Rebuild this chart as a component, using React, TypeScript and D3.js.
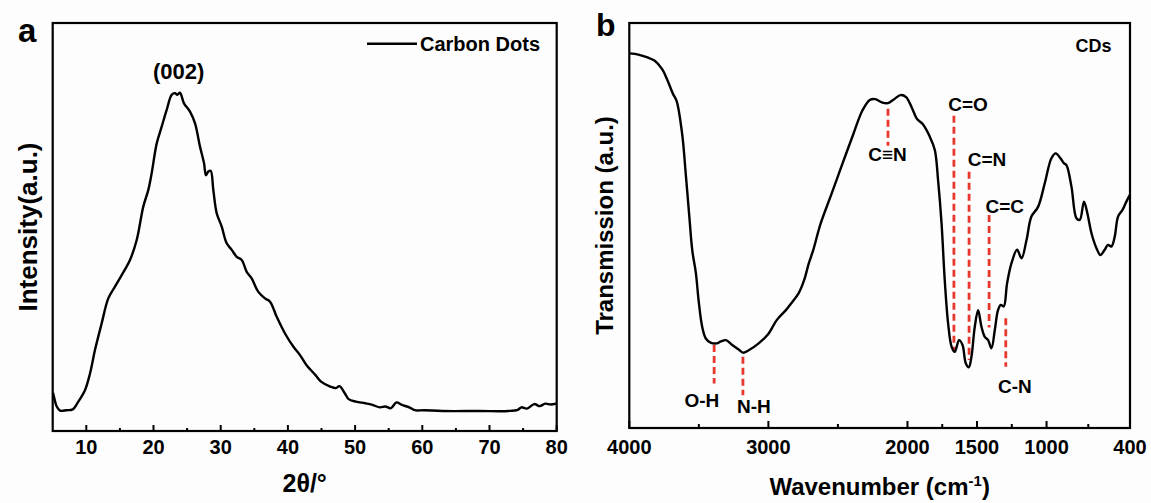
import React from "react";
import * as d3 from "d3";

// ---------- Panel a: XRD ----------
const xrdAngle = [5.05, 5.19, 5.6, 6.09, 7.08, 7.98, 8.81, 9.8, 10.55, 11.3, 12.29, 13.27, 14.27, 15.27, 16.5, 17.5, 18.48, 19.23, 19.73, 20.48, 21.22, 21.96, 22.71, 23.2, 23.54, 23.94, 24.54, 25.43, 26.18, 26.92, 27.52, 27.81, 28.16, 28.51, 28.9, 29.4, 30.15, 30.89, 31.64, 32.38, 33.13, 33.87, 34.61, 35.6, 36.59, 37.34, 38.33, 39.57, 40.8, 41.8, 42.75, 44.11, 44.93, 46.3, 47.12, 47.67, 48.49, 49.04, 50.13, 51.5, 52.59, 53.69, 54.51, 55.33, 56.15, 56.97, 58.06, 58.88, 60.25, 62.99, 68.46, 72.83, 74.2, 74.75, 75.57, 76.66, 77.48, 78.3, 79.12, 79.9];
const xrdIntensity = [9.4, 8.4, 6.0, 5.0, 5.1, 5.3, 7.2, 10.0, 14.1, 19.9, 26.4, 32.5, 35.4, 38.2, 41.9, 46.8, 55.0, 59.1, 63.2, 70.5, 74.6, 78.7, 82.4, 82.8, 82.4, 82.9, 80.3, 78.3, 75.4, 69.7, 65.6, 62.7, 63.6, 63.8, 59.1, 53.4, 50.1, 46.0, 44.4, 42.7, 41.9, 39.0, 37.4, 34.1, 32.5, 31.7, 28.0, 23.9, 20.7, 18.6, 16.2, 13.7, 12.1, 10.9, 10.5, 11.0, 9.2, 7.8, 7.2, 6.8, 6.4, 5.8, 6.0, 5.6, 7.0, 6.4, 5.8, 5.1, 5.1, 4.9, 4.9, 4.9, 5.2, 5.8, 5.5, 6.6, 6.1, 6.7, 6.5, 6.7];
const xrdTicks = [10, 20, 30, 40, 50, 60, 70, 80];
const xrdMinorTicks = [15, 25, 35, 45, 55, 65, 75];

// ---------- Panel b: FTIR ----------
const ftirWavenumber = [3995, 3935, 3869, 3817, 3764, 3725, 3686, 3660, 3620, 3594, 3568, 3547, 3521, 3502, 3476, 3450, 3416, 3371, 3345, 3306, 3267, 3214, 3180, 3136, 3070, 3005, 2939, 2874, 2835, 2782, 2743, 2709, 2677, 2625, 2546, 2468, 2389, 2324, 2271, 2232, 2185, 2140, 2096, 2049, 2010, 1970, 1931, 1892, 1839, 1803, 1780, 1755, 1732, 1708, 1683, 1660, 1629, 1604, 1581, 1559, 1540, 1516, 1492, 1468, 1444, 1420, 1396, 1372, 1349, 1329, 1308, 1284, 1252, 1212, 1180, 1144, 1109, 1061, 1013, 965, 934, 900, 876, 857, 821, 785, 761, 731, 709, 677, 641, 613, 582, 558, 534, 510, 486, 455, 426, 402];
const ftirTransmission = [92.5, 92.2, 91.5, 90.7, 88.6, 85.8, 82.5, 80.8, 72.6, 62.7, 52.0, 43.8, 38.2, 31.6, 25.0, 22.1, 21.1, 20.9, 21.3, 21.7, 20.7, 19.4, 18.6, 19.3, 20.9, 23.0, 26.7, 29.1, 30.8, 33.3, 36.5, 40.7, 44.0, 50.4, 57.8, 65.2, 72.6, 78.4, 81.0, 81.2, 80.4, 80.2, 81.2, 82.2, 81.7, 79.2, 76.3, 75.1, 71.9, 68.6, 61.2, 50.6, 36.5, 25.9, 20.1, 18.8, 21.7, 20.5, 16.0, 15.0, 17.6, 25.0, 29.1, 25.0, 22.5, 21.7, 19.7, 24.2, 29.1, 30.4, 30.0, 35.7, 40.7, 44.0, 41.9, 46.4, 52.2, 54.6, 60.4, 66.6, 67.8, 66.6, 65.4, 64.9, 59.6, 51.8, 51.4, 55.9, 53.4, 48.1, 44.4, 42.7, 44.0, 45.2, 44.8, 47.2, 52.2, 53.8, 55.9, 57.5];
const ftirTicks = [4000, 3000, 2000, 1500, 1000, 400];
const ftirMinorTicks = [3500, 2500, 1750, 1250, 700];

// Bond annotations
const bondNames = ["O-H", "N-H", "C\u2261N", "C=O", "C=N", "C=C", "C-N"];
const bondWavenumber = [3390, 3183, 2140, 1666, 1557, 1413, 1293];
const bondLineTop = [20.5, 17.6, 78.8, 77.1, 63.3, 52.6, 27.1];
const bondLineBottom = [11.0, 8.1, 69.7, 18.9, 16.8, 24.8, 15.1];
const bondLabelWavenumber = [3478, 3104, 2143, 1565, 1428, 1300, 1228];
const bondLabelLevel = [6.7, 5.3, 67.5, 80.0, 66.4, 54.8, 10.2];

const FONT = "'Liberation Sans', Arial, Helvetica, sans-serif";

export default function App() {
  const W = 1151, H = 503;

  // panel a scales
  const ax = d3.scaleLinear().domain([5, 80]).range([52.7, 556.7]);
  const ay = d3.scaleLinear().domain([0, 100]).range([431, 23]);
  const aLine = d3.line<number>()
    .x((_, i) => ax(xrdAngle[i]))
    .y((d) => ay(d))
    .curve(d3.curveCatmullRom.alpha(0.5));

  // panel b scales
  const bx = d3.scaleLinear().domain([4000, 400]).range([629.3, 1130]);
  const by = d3.scaleLinear().domain([0, 100]).range([428, 23]);
  const bLine = d3.line<number>()
    .x((_, i) => bx(ftirWavenumber[i]))
    .y((d) => by(d))
    .curve(d3.curveCatmullRom.alpha(0.5));

  const red = "#e8382e";

  return (
    <div style={{ position: "absolute", left: 0, top: 0 }}>
      <svg width={W} height={H} style={{ display: "block", background: "#fdfdfd" }} fontFamily={FONT}>
        <rect x={0} y={0} width={W} height={H} fill="#fdfdfd" />
        {/* ---------- Panel a ---------- */}
        <text x={18} y={42} fontSize={33} fontWeight="bold">a</text>
        <path d={aLine(xrdIntensity) || ""} fill="none" stroke="#000" strokeWidth={2.4} strokeLinejoin="round" />
        <rect x={ax(5)} y={ay(100)} width={ax(80) - ax(5)} height={ay(0) - ay(100)} fill="none" stroke="#000" strokeWidth={2.2} />
        {xrdTicks.map((t) => (
          <g key={"at" + t}>
            <line x1={ax(t)} x2={ax(t)} y1={ay(0)} y2={ay(0) - 6} stroke="#000" strokeWidth={2} />
            <text x={ax(t)} y={454} textAnchor="middle" fontSize={20} fontWeight="bold">{t}</text>
          </g>
        ))}
        {xrdMinorTicks.map((t) => (
          <line key={"am" + t} x1={ax(t)} x2={ax(t)} y1={ay(0)} y2={ay(0) - 3} stroke="#000" strokeWidth={2} />
        ))}
        <text x={(ax(5) + ax(80)) / 2} y={492} textAnchor="middle" fontSize={25} fontWeight="bold">2θ/°</text>
        <text transform={`translate(37,${(ay(0) + ay(100)) / 2}) rotate(-90)`} textAnchor="middle" fontSize={26} fontWeight="bold">Intensity(a.u.)</text>
        <line x1={367} x2={417} y1={43.7} y2={43.7} stroke="#000" strokeWidth={2.4} />
        <text x={420} y={51} fontSize={20} fontWeight="bold">Carbon Dots</text>
        <text x={178.6} y={78.5} textAnchor="middle" fontSize={22} fontWeight="bold">(002)</text>

        {/* ---------- Panel b ---------- */}
        <text x={596} y={36} fontSize={32} fontWeight="bold">b</text>
        {bondNames.map((n, i) => (
          <line key={"bl" + n} x1={bx(bondWavenumber[i])} x2={bx(bondWavenumber[i])}
            y1={by(bondLineTop[i])} y2={by(bondLineBottom[i])}
            stroke={red} strokeWidth={2.8} strokeDasharray="7,4" />
        ))}
        <path d={bLine(ftirTransmission) || ""} fill="none" stroke="#000" strokeWidth={2.4} strokeLinejoin="round" />
        {bondNames.map((n, i) => (
          <text key={"bt" + n} x={bx(bondLabelWavenumber[i])} y={by(bondLabelLevel[i])}
            textAnchor="middle" dominantBaseline="central" fontSize={19} fontWeight="bold">{n}</text>
        ))}
        <rect x={bx(4000)} y={by(100)} width={bx(400) - bx(4000)} height={by(0) - by(100)} fill="none" stroke="#000" strokeWidth={2.2} />
        {ftirTicks.map((t) => (
          <g key={"bt" + t}>
            <line x1={bx(t)} x2={bx(t)} y1={by(0)} y2={by(0) - 7} stroke="#000" strokeWidth={2} />
            <text x={bx(t)} y={454} textAnchor="middle" fontSize={20} fontWeight="bold">{t}</text>
          </g>
        ))}
        {ftirMinorTicks.map((t) => (
          <line key={"bm" + t} x1={bx(t)} x2={bx(t)} y1={by(0)} y2={by(0) - 4} stroke="#000" strokeWidth={2} />
        ))}
        <text x={(bx(4000) + bx(400)) / 2} y={495} textAnchor="middle" fontSize={24} fontWeight="bold">
          Wavenumber (cm<tspan dy={-9} fontSize={15}>-1</tspan><tspan dy={9}>)</tspan>
        </text>
        <text transform={`translate(613,${(by(0) + by(100)) / 2}) rotate(-90)`} textAnchor="middle" fontSize={24} fontWeight="bold">Transmission (a.u.)</text>
        <text x={1093.6} y={52} textAnchor="middle" fontSize={18} fontWeight="bold">CDs</text>
      </svg>
    </div>
  );
}
